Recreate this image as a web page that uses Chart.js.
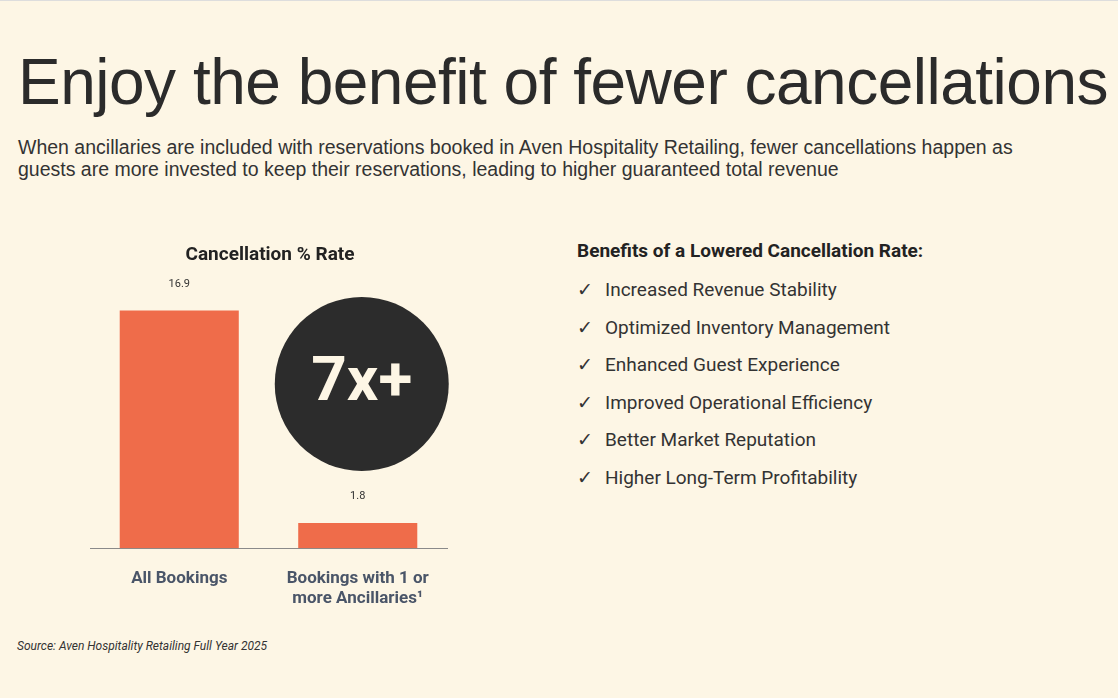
<!DOCTYPE html>
<html>
<head>
<meta charset="utf-8">
<script src="https://cdn.jsdelivr.net/npm/chart.js@4.4.1/dist/chart.umd.min.js"></script>
<style>
  html, body { margin: 0; padding: 0; }
  body { width: 1118px; height: 698px; background: #fdf6e5; position: relative; overflow: hidden; font-family: "Liberation Sans", Arial, sans-serif; color: #2b2b2b; border-top: 1px solid #ddd; box-sizing: border-box; }
  h1 { position: absolute; left: 18px; top: 44px; margin: 0; font-weight: 400; font-size: 64px; letter-spacing: -0.5px; color: #2b2b2b; }
  .sub { position: absolute; left: 18px; top: 135px; width: 1040px; font-size: 19.5px; line-height: 22px; color: #333; }
  .chart-title { position: absolute; left: 80px; width: 380px; top: 241px; text-align: center; font: 700 19px Roboto, sans-serif; color: #222; }
  #wrap { position: absolute; left: 80px; top: 230px; width: 400px; height: 390px; }
  .benefits { position: absolute; left: 577px; top: 238px; font-family: Roboto, sans-serif; color: #333; }
  .benefits h3 { margin: 0 0 9px 0; font-size: 19px; font-weight: 700; color: #222; }
  .benefits div { font-size: 19px; line-height: 37.5px; }
  .benefits span { display: inline-block; width: 28px; }
  .src { position: absolute; left: 17px; top: 638px; font: italic 12px Roboto, sans-serif; color: #333; }
</style>
</head>
<body>
<h1>Enjoy the benefit of fewer cancellations</h1>
<div class="sub">When ancillaries are included with reservations booked in Aven Hospitality Retailing, fewer cancellations happen as guests are more invested to keep their reservations, leading to higher guaranteed total revenue</div>
<div id="wrap"><canvas id="c"></canvas></div>
<div class="chart-title">Cancellation % Rate</div>
<div class="benefits">
  <h3>Benefits of a Lowered Cancellation Rate:</h3>
  <div><span>✓</span>Increased Revenue Stability</div>
  <div><span>✓</span>Optimized Inventory Management</div>
  <div><span>✓</span>Enhanced Guest Experience</div>
  <div><span>✓</span>Improved Operational Efficiency</div>
  <div><span>✓</span>Better Market Reputation</div>
  <div><span>✓</span>Higher Long-Term Profitability</div>
</div>
<div class="src">Source: Aven Hospitality Retailing Full Year 2025</div>
<script>
const categories = [['All Bookings'], ['Bookings with 1 or', 'more Ancillaries¹']];
const cancelRates = [16.9, 1.8];
const badgeText = '7x+';

// value labels above bars + the dark badge
const overlay = {
  id: 'overlay',
  afterDatasetsDraw(chart) {
    const ctx = chart.ctx;
    const meta = chart.getDatasetMeta(0);
    ctx.save();
    ctx.fillStyle = '#333';
    ctx.font = '11px Roboto, sans-serif';
    ctx.textAlign = 'center';
    meta.data.forEach((bar, i) => {
      ctx.fillText(cancelRates[i].toFixed(1), bar.x, bar.y - 24);
    });
    const x = meta.data[1].x + 4, y = 153;
    ctx.beginPath();
    ctx.arc(x, y, 87, 0, Math.PI * 2);
    ctx.fillStyle = '#2c2c2c';
    ctx.fill();
    ctx.fillStyle = '#fdf6e5';
    ctx.font = '700 62px Roboto, sans-serif';
    ctx.textBaseline = 'middle';
    ctx.fillText(badgeText, x, y);
    ctx.restore();
  }
};

new Chart(document.getElementById('c'), {
  type: 'bar',
  data: {
    labels: categories,
    datasets: [{
      data: cancelRates,
      backgroundColor: '#ef6c4a',
      barPercentage: 0.667,
      categoryPercentage: 1
    }]
  },
  options: {
    responsive: true,
    maintainAspectRatio: false,
    animation: false,
    layout: { padding: { left: 10, right: 33, top: 50 } },
    plugins: { legend: { display: false }, tooltip: { enabled: false } },
    scales: {
      x: {
        grid: { display: false },
        border: { display: true, color: '#8a8a8a' },
        ticks: { color: '#4a5568', font: { family: 'Roboto', size: 17, weight: 'bold' }, padding: 12, maxRotation: 0 }
      },
      y: { display: false, min: 0, max: 19 }
    }
  },
  plugins: [overlay]
});
</script>
</body>
</html>
